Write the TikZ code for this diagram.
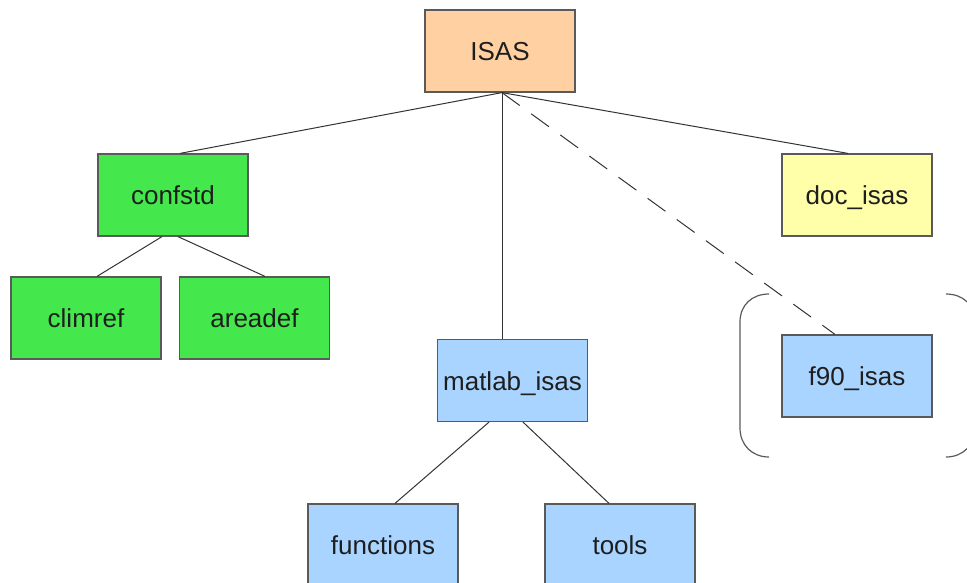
\documentclass[tikz,border=0pt]{standalone}
\usepackage{fontspec}
\setmainfont{Liberation Sans}
\definecolor{peach}{HTML}{FFD0A2}
\definecolor{grn}{HTML}{44E84C}
\definecolor{lblue}{HTML}{A8D4FF}
\definecolor{lyel}{HTML}{FFFFAA}
\definecolor{bord}{HTML}{5A5A5A}
\definecolor{txt}{HTML}{1E1E1E}
\definecolor{ln}{HTML}{333333}
\tikzset{
  box/.style={draw=bord, line width=1.2pt, rectangle, minimum width=150pt, minimum height=82pt,
    inner sep=0pt, text height=19pt, text depth=0pt, text=txt, font=\fontsize{26}{30}\selectfont},
  conn/.style={draw=ln, line width=1pt},
  dconn/.style={draw=ln, line width=1pt, dash pattern=on 22pt off 14pt},
  brk/.style={draw=bord, line width=1.2pt}
}
\begin{document}
\begin{tikzpicture}[x=1pt,y=-1pt]
\useasboundingbox (0,0) rectangle (967,582);
\clip (0,0) rectangle (967,582);
\node[box, fill=peach] (isas) at (500,51) {ISAS};
\node[box, fill=grn] (confstd) at (173,195) {confstd};
\node[box, fill=grn] (climref) at (86,318) {climref};
\node[box, fill=grn] (areadef) at (254.5,318) {areadef};
\node[box, fill=lblue] (matlab) at (512.5,380.5) {matlab\_isas};
\node[box, fill=lblue] (functions) at (383,545) {functions};
\node[box, fill=lblue] (tools) at (620,545) {tools};
\node[box, fill=lyel] (docisas) at (857,195) {doc\_isas};
\node[box, fill=lblue] (f90) at (857,376) {f90\_isas};
\coordinate (isasb) at ([xshift=2pt]isas.south);
\draw[conn] (isasb) -- ([xshift=7pt]confstd.north);
\draw[conn] (isasb) -- (isasb |- matlab.north);
\draw[conn] (isasb) -- ([xshift=-9pt]docisas.north);
\draw[dconn] (isasb) -- ([xshift=-22pt]f90.north);
\draw[conn] ([xshift=-11pt]confstd.south) -- ([xshift=11pt]climref.north);
\draw[conn] ([xshift=5pt]confstd.south) -- ([xshift=10.5pt]areadef.north);
\draw[conn] ([xshift=-23.5pt]matlab.south) -- ([xshift=12pt]functions.north);
\draw[conn] ([xshift=10.5pt]matlab.south) -- ([xshift=-11pt]tools.north);
% bracket pair around f90_isas
\draw[brk] (769,294) .. controls (752,294) and (740,305) .. (740,322) -- (740,428) .. controls (740,445) and (752,457) .. (769,457);
\draw[brk] (946,294) .. controls (963,294) and (975,305) .. (975,322) -- (975,428) .. controls (975,445) and (963,457) .. (946,457);
\end{tikzpicture}
\end{document}
